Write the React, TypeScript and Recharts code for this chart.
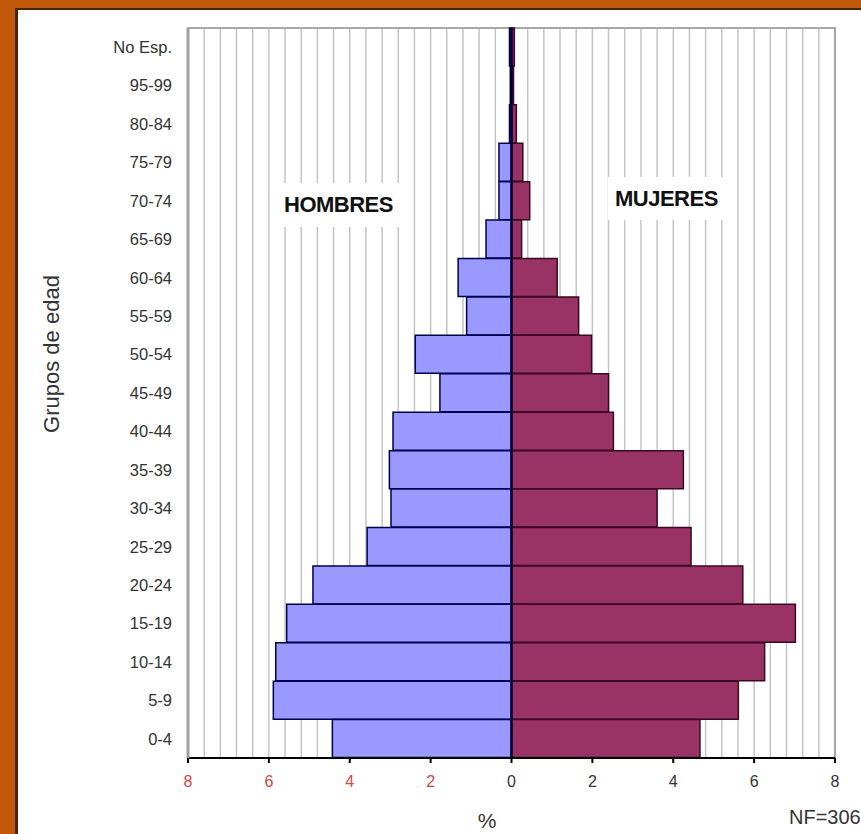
import React from 'react';
import { BarChart, Bar, XAxis, YAxis, CartesianGrid, ReferenceLine, ReferenceArea } from 'recharts';

// Age groups, top to bottom
const categories = ['No Esp.', '95-99', '80-84', '75-79', '70-74', '65-69', '60-64', '55-59', '50-54', '45-49', '40-44', '35-39', '30-34', '25-29', '20-24', '15-19', '10-14', '5-9', '0-4'];
// Percentages
const hombres = [0.05, 0.03, 0.05, 0.31, 0.31, 0.63, 1.32, 1.11, 2.38, 1.77, 2.93, 3.02, 2.98, 3.57, 4.91, 5.56, 5.83, 5.89, 4.43];
const mujeres = [0.07, 0.05, 0.12, 0.28, 0.45, 0.25, 1.13, 1.66, 1.98, 2.4, 2.52, 4.25, 3.6, 4.44, 5.72, 7.02, 6.26, 5.61, 4.66];
const xTicks = [-8, -6, -4, -2, 0, 2, 4, 6, 8];
const gridTicks = Array.from({ length: 39 }, (_, i) => Math.round((-7.6 + i * 0.4) * 10) / 10).filter((v) => v !== 0);

const data = categories.map((grupo, i) => ({ grupo, hombres: -hombres[i], mujeres: mujeres[i] }));

const FONT = '"Liberation Sans", Arial, sans-serif';

const XTick = (props: any) => {
  const { x, y, payload } = props;
  const v = payload.value as number;
  return (
    <text x={x} y={y} dy="0.71em" textAnchor="middle" fontSize={16} fontFamily={FONT} fill={v < 0 ? '#d04848' : '#333'}>
      {Math.abs(v)}
    </text>
  );
};

const YTick = (props: any) => {
  const { x, y, payload } = props;
  return (
    <text x={x} y={y} dy="0.355em" textAnchor="end" fontSize={16.5} fontFamily={FONT} fill="#333">
      {payload.value}
    </text>
  );
};

export default function App() {
  return (
    <div style={{ position: 'absolute', left: 0, top: 0, width: 861, height: 834, background: '#c2590a', overflow: 'hidden' }}>
      <div style={{ position: 'absolute', left: 15, top: 8, right: 0, bottom: 0, background: '#fff', borderLeft: '3px solid #4a2300', borderTop: '2px solid #4a2300' }} />
      <div style={{ position: 'absolute', left: 0, top: 0 }}>
        <BarChart
          width={861}
          height={834}
          data={data}
          layout="vertical"
          stackOffset="sign"
          barCategoryGap={0}
          margin={{ top: 28, right: 26, left: 88, bottom: 46 }}
        >
          <CartesianGrid xAxisId="grid" horizontal={false} stroke="#c4c4c4" strokeWidth={1.5} />
          <ReferenceArea x1={-8} x2={8} fill="none" stroke="#a8a8a8" strokeWidth={2} ifOverflow="extendDomain" />
          <XAxis xAxisId="grid" type="number" domain={[-8, 8]} ticks={gridTicks} interval={0} hide allowDataOverflow />
          <XAxis
            type="number"
            domain={[-8, 8]}
            ticks={xTicks}
            interval={0}
            height={30}
            tick={<XTick />}
            tickSize={5}
            tickMargin={13}
            axisLine={{ stroke: '#000', strokeWidth: 2 }}
            tickLine={{ stroke: '#000', strokeWidth: 2 }}
            allowDataOverflow
          />
          <YAxis
            type="category"
            dataKey="grupo"
            width={100}
            tick={<YTick />}
            tickLine={false}
            tickSize={0}
            tickMargin={16}
            axisLine={{ stroke: '#a0a0a0', strokeWidth: 3 }}
            interval={0}
          />
          <Bar dataKey="hombres" stackId="s" fill="#9999ff" stroke="#000050" strokeWidth={1.5} isAnimationActive={false} />
          <Bar dataKey="mujeres" stackId="s" fill="#993366" stroke="#3a0820" strokeWidth={1.5} isAnimationActive={false} />
          <ReferenceLine x={0} stroke="#000033" strokeWidth={2.5} />
        </BarChart>
      </div>
      <svg width={861} height={834} style={{ position: 'absolute', left: 0, top: 0, pointerEvents: 'none' }} fontFamily={FONT}>
        <rect x={270} y={183} width={140} height={44} fill="#fff" />
        <rect x={608} y={177} width={128} height={43} fill="#fff" />
        <text x={284} y={212} fontSize={22} fontWeight="bold" letterSpacing={-0.5} fill="#111">HOMBRES</text>
        <text x={615} y={206} fontSize={22} fontWeight="bold" letterSpacing={-0.5} fill="#111">MUJERES</text>
        <text transform="translate(59,354) rotate(-90)" textAnchor="middle" fontSize={22} fill="#333">Grupos de edad</text>
        <text x={487} y={828} textAnchor="middle" fontSize={21} fill="#333">%</text>
        <text x={789} y={824} fontSize={20} fill="#333">NF=306</text>
      </svg>
    </div>
  );
}
